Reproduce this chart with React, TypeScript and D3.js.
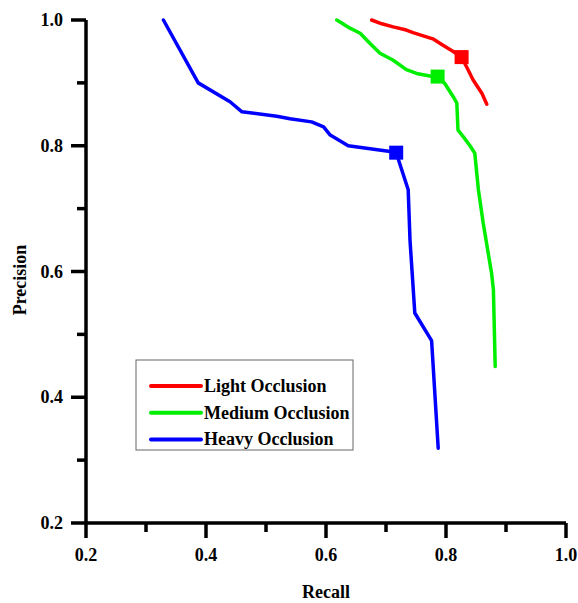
import React from "react";
import * as d3 from "d3";

const lightRecall = [0.676, 0.693, 0.712, 0.734, 0.745, 0.778, 0.795, 0.812, 0.826, 0.834, 0.845, 0.86, 0.868];
const lightPrecision = [1.0, 0.994, 0.989, 0.984, 0.98, 0.97, 0.96, 0.95, 0.941, 0.926, 0.905, 0.883, 0.866];

const mediumRecall = [0.618, 0.64, 0.657, 0.673, 0.69, 0.712, 0.734, 0.751, 0.773, 0.786, 0.798, 0.812, 0.818, 0.82, 0.829, 0.84, 0.848, 0.854, 0.862, 0.876, 0.879, 0.882];
const mediumPrecision = [1.0, 0.987, 0.979, 0.963, 0.947, 0.936, 0.921, 0.915, 0.911, 0.91, 0.899, 0.878, 0.868, 0.825, 0.814, 0.8, 0.788, 0.73, 0.677, 0.597, 0.571, 0.449];

const heavyRecall = [0.329, 0.387, 0.44, 0.46, 0.518, 0.54, 0.576, 0.596, 0.607, 0.637, 0.707, 0.717, 0.737, 0.74, 0.748, 0.776, 0.787];
const heavyPrecision = [1.0, 0.9, 0.87, 0.854, 0.847, 0.843, 0.838, 0.83, 0.817, 0.8, 0.791, 0.789, 0.73, 0.65, 0.534, 0.49, 0.319];

const markerRecall = [0.826, 0.786, 0.717];
const markerPrecision = [0.941, 0.91, 0.789];

const seriesNames = ["Light Occlusion", "Medium Occlusion", "Heavy Occlusion"];
const seriesColors = ["#ff0000", "#00ee00", "#0000ff"];

const majorTicks = [0.2, 0.4, 0.6, 0.8, 1.0];
const minorTicks = [0.3, 0.5, 0.7, 0.9];

const FONT = '"Liberation Serif", "Times New Roman", serif';

export default function App() {
  const x = d3.scaleLinear().domain([0.2, 1.0]).range([86, 566]);
  const y = d3.scaleLinear().domain([0.2, 1.0]).range([523, 20]);
  const series = [
    { r: lightRecall, p: lightPrecision },
    { r: mediumRecall, p: mediumPrecision },
    { r: heavyRecall, p: heavyPrecision },
  ];
  const line = d3
    .line<[number, number]>()
    .x((d) => x(d[0]))
    .y((d) => y(d[1]));
  const ts = { fontFamily: FONT, fontWeight: 700 as const };
  const ms = 14;
  return (
    <svg
      width={578}
      height={603}
      style={{ position: "absolute", left: 0, top: 0, background: "#fff" }}
    >
      {series.map((s, i) => (
        <path
          key={i}
          d={line(s.r.map((r, j) => [r, s.p[j]] as [number, number])) || ""}
          fill="none"
          stroke={seriesColors[i]}
          strokeWidth={3.5}
          strokeLinejoin="round"
          strokeLinecap="round"
        />
      ))}
      {markerRecall.map((r, i) => (
        <rect
          key={i}
          x={x(r) - ms / 2}
          y={y(markerPrecision[i]) - ms / 2}
          width={ms}
          height={ms}
          fill={seriesColors[i]}
        />
      ))}
      <line x1={x(0.2)} x2={x(1.0)} y1={y(0.2)} y2={y(0.2)} stroke="#000" strokeWidth={3.5} />
      <line x1={x(0.2)} x2={x(0.2)} y1={y(0.2)} y2={y(1.0)} stroke="#000" strokeWidth={3.5} />
      {majorTicks.map((t) => (
        <g key={"mx" + t}>
          <line x1={x(t)} x2={x(t)} y1={y(0.2)} y2={y(0.2) + 15} stroke="#000" strokeWidth={3.5} />
          <text x={x(t)} y={y(0.2) + 38} textAnchor="middle" fontSize={18} style={ts}>
            {t.toFixed(1)}
          </text>
          <line x1={x(0.2) - 15} x2={x(0.2)} y1={y(t)} y2={y(t)} stroke="#000" strokeWidth={3.5} />
          <text x={x(0.2) - 23} y={y(t) + 6} textAnchor="end" fontSize={18} style={ts}>
            {t.toFixed(1)}
          </text>
        </g>
      ))}
      {minorTicks.map((t) => (
        <g key={"mn" + t}>
          <line x1={x(t)} x2={x(t)} y1={y(0.2)} y2={y(0.2) + 9} stroke="#000" strokeWidth={3.5} />
          <line x1={x(0.2) - 9} x2={x(0.2)} y1={y(t)} y2={y(t)} stroke="#000" strokeWidth={3.5} />
        </g>
      ))}
      <text x={(x(0.2) + x(1.0)) / 2} y={598} textAnchor="middle" fontSize={18} style={ts}>
        Recall
      </text>
      <text transform={`translate(26, 280) rotate(-90)`} textAnchor="middle" fontSize={18} style={ts}>
        Precision
      </text>
      <rect x={136} y={360} width={217} height={90} fill="#fff" stroke="#666" strokeWidth={1} />
      {seriesNames.map((n, i) => (
        <g key={n}>
          <line
            x1={151}
            x2={201}
            y1={386 + i * 26.7}
            y2={386 + i * 26.7}
            stroke={seriesColors[i]}
            strokeWidth={4}
            strokeLinecap="round"
          />
          <text x={204} y={386 + i * 26.7 + 6} fontSize={18} style={ts}>
            {n}
          </text>
        </g>
      ))}
    </svg>
  );
}
